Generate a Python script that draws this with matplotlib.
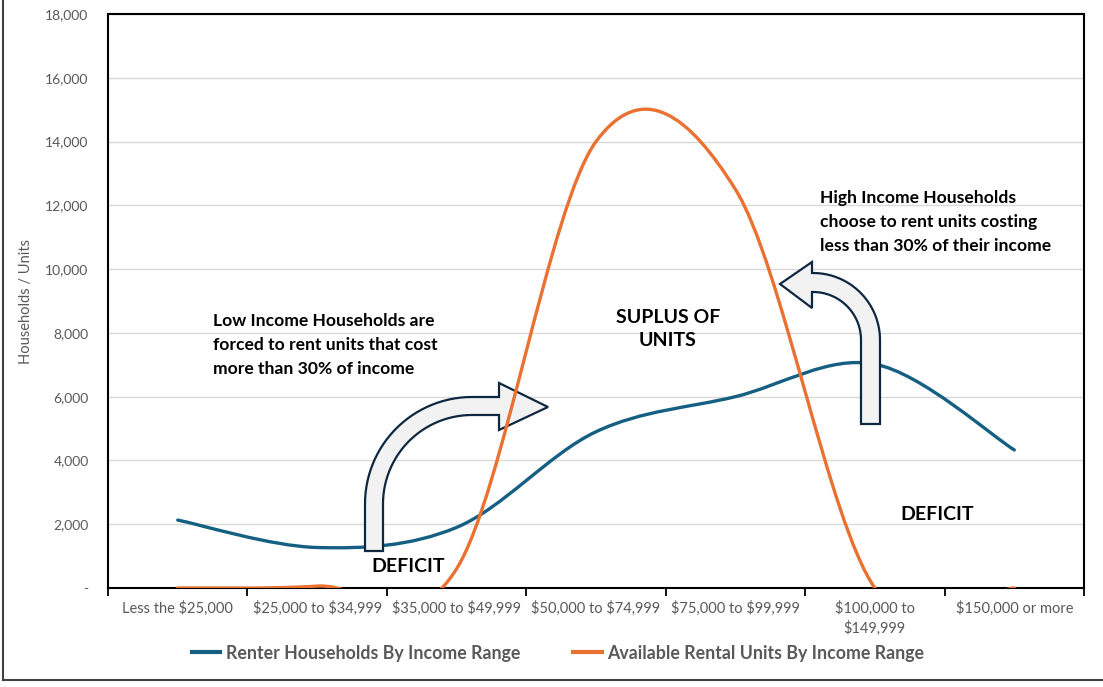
import numpy as np
import matplotlib
matplotlib.use('Agg')
import matplotlib.pyplot as plt
from matplotlib.path import Path
from matplotlib.patches import PathPatch, Polygon
from matplotlib.lines import Line2D
from matplotlib.transforms import Affine2D

# data
categories = ["Less the $25,000", "$25,000 to $34,999", "$35,000 to $49,999",
              "$50,000 to $74,999", "$75,000 to $99,999", "$100,000 to\n$149,999",
              "$150,000 or more"]
renter_households = [2130, 1270, 1900, 4900, 6000, 7020, 4330]
available_units = [0, 60, 600, 14000, 12500, 0, 0]
y_ticks = [0, 2000, 4000, 6000, 8000, 10000, 12000, 14000, 16000, 18000]
y_tick_labels = ["-", "2,000", "4,000", "6,000", "8,000", "10,000", "12,000",
                 "14,000", "16,000", "18,000"]

BLUE = "#156082"
ORANGE = "#E97132"
GREY = "#595959"
W, H = 1103, 687

plt.rcParams['font.family'] = ['Lato', 'DejaVu Sans']
plt.rcParams['text.parse_math'] = False


def smooth_path(xs, ys):
    # Excel-style smoothed line: cubic bezier through each point
    p = np.column_stack([xs, ys]).astype(float)
    n = len(p)
    verts = [p[0]]
    codes = [Path.MOVETO]
    for i in range(n - 1):
        prev = p[i - 1] if i > 0 else p[i]
        nxt = p[i + 2] if i + 2 < n else p[i + 1]
        c1 = p[i] + (p[i + 1] - prev) / 6
        c2 = p[i + 1] - (nxt - p[i]) / 6
        verts += [c1, c2, p[i + 1]]
        codes += [Path.CURVE4] * 3
    return Path(verts, codes)


fig = plt.figure(figsize=(W / 100, H / 100), dpi=100)
ax = fig.add_axes([108 / W, (H - 588) / H, (1084 - 108) / W, (588 - 14) / H])
px = Affine2D().scale(1 / W, -1 / H).translate(0, 1) + fig.transFigure

x = np.arange(len(categories))
ax.add_patch(PathPatch(smooth_path(x, renter_households), fill=False,
                       edgecolor=BLUE, lw=2.4, capstyle='round', zorder=2))
ax.add_patch(PathPatch(smooth_path(x, available_units), fill=False,
                       edgecolor=ORANGE, lw=2.4, capstyle='round', zorder=4))

ax.set_xlim(-0.5, len(categories) - 0.5)
ax.set_ylim(0, 18000)
ax.set_yticks(y_ticks)
ax.set_yticklabels(y_tick_labels)
ax.set_xticks(x)
ax.set_xticklabels(categories)
ax.set_xticks(np.arange(len(categories) + 1) - 0.5, minor=True)
ax.tick_params(axis='x', which='major', length=0, pad=9, labelsize=10.5, labelcolor=GREY)
ax.tick_params(axis='x', which='minor', length=6, width=1.3, color='black', direction='out')
ax.tick_params(axis='y', length=0, pad=14, labelsize=10, labelcolor=GREY)
for lab in ax.get_xticklabels():
    lab.set_linespacing(1.4)
ax.grid(axis='y', color='#d9d9d9', lw=1)
ax.set_axisbelow(True)
for s in ax.spines.values():
    s.set_linewidth(1.5)
    s.set_color('black')
ax.set_ylabel("Households / Units", fontsize=10.5, color=GREY, labelpad=9)

# curved block arrows (pixel coordinates)
def block_arrow(cx, cy, R, r, a0, a1, stem_x0, stem_x1, stem_bottom, head):
    t = np.radians(np.linspace(a0, a1, 30))
    outer = np.column_stack([cx + R * np.cos(t), cy - R * np.sin(t)])
    inner = np.column_stack([cx + r * np.cos(t[::-1]), cy - r * np.sin(t[::-1])])
    pts = [(stem_x0, stem_bottom)] + list(outer) + head + list(inner) + [(stem_x1, stem_bottom)]
    return Polygon(pts, closed=True, transform=px, facecolor='#F2F2F2',
                   edgecolor='#0E2841', lw=1.6, zorder=3)

ax.add_patch(block_arrow(472, 504, 107, 89, 180, 90, 365, 383, 551,
                         [(499, 397), (499, 383), (548, 407), (499, 430), (499, 415)]))
ax.add_patch(block_arrow(813, 340, 67, 48, 0, 90, 880, 861, 424,
                         [(812, 273), (812, 262), (780, 284), (812, 308), (812, 292)]))

note = dict(transform=px, fontsize=12.6, fontweight='bold', color='black', zorder=5)
ax.text(213, 345, "Low Income Households are\nforced to rent units that cost\nmore than 30% of income",
        ha='left', va='center', linespacing=1.6, **note)
ax.text(820, 222, "High Income Households\nchoose to rent units costing\nless than 30% of their income",
        ha='left', va='center', linespacing=1.6, **note)
big = dict(transform=px, fontsize=14, fontweight='bold', color='black', zorder=5)
ax.text(668, 329, "SUPLUS OF\nUNITS", ha='center', va='center', linespacing=1.45, **big)
ax.text(408, 566, "DEFICIT", ha='center', va='center', **big)
ax.text(937, 515, "DEFICIT", ha='center', va='center', **big)

handles = [Line2D([], [], color=BLUE, lw=3), Line2D([], [], color=ORANGE, lw=3)]
leg = fig.legend(handles, ["Renter Households By Income Range",
                           "Available Rental Units By Income Range"],
                 loc='center', bbox_to_anchor=(558 / W, 1 - 653 / H), ncol=2,
                 frameon=False, handlelength=1.6, handletextpad=0.3,
                 columnspacing=3.0, prop={'size': 12.8, 'weight': 'bold'})
for t in leg.get_texts():
    t.set_color(GREY)

# outer chart frame
fig.add_artist(Line2D([3, 3], [0, 680], color='#404040', lw=1.5, transform=px))
fig.add_artist(Line2D([3, W], [680, 680], color='#404040', lw=1.5, transform=px))

fig.savefig("out.png", dpi=100)
